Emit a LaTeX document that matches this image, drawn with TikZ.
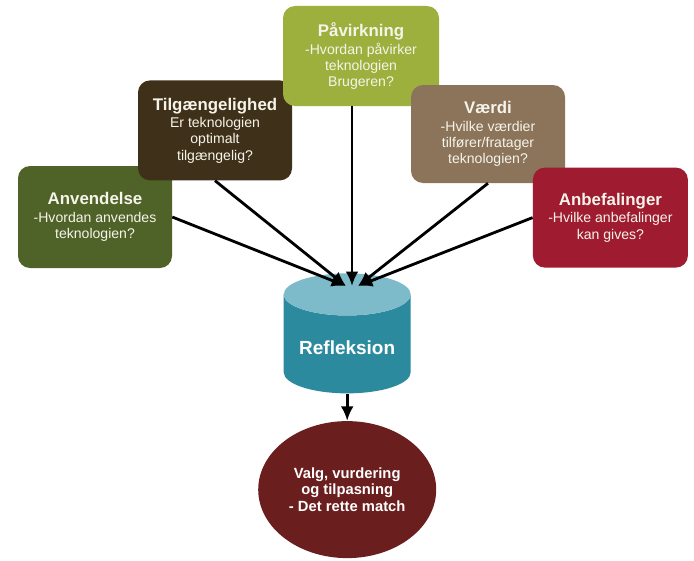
\documentclass[tikz,border=0pt]{standalone}
\usepackage{fontspec}
\setmainfont{Liberation Sans}
\usetikzlibrary{shapes.geometric,arrows.meta}
\definecolor{anvgreen}{HTML}{4F6228}
\definecolor{tilgbrown}{HTML}{3F3119}
\definecolor{pavlime}{HTML}{9DB03D}
\definecolor{vaerdtaupe}{HTML}{8B745A}
\definecolor{anbefred}{HTML}{9E1B30}
\definecolor{reflteal}{HTML}{2C8A9F}
\definecolor{refltop}{HTML}{7DBACA}
\definecolor{valgred}{HTML}{6B1E1E}
\definecolor{boxtext}{HTML}{F6F4EA}
\tikzset{
  boks/.style={rectangle,rounded corners=0.3cm,minimum width=3.85cm,minimum height=2.5cm,
    align=center,text=boxtext,inner sep=2pt,font=\fontsize{10}{11.5}\selectfont},
  pil/.style={-{Latex[length=3.6mm,width=3.2mm]},line width=2pt},
}
\newcommand{\boxhead}[1]{{\fontsize{12}{14}\selectfont\bfseries #1}}

\begin{document}
\begin{tikzpicture}
	\useasboundingbox (0,0) rectangle (17.35,-14);
	% the five questions
	\node[boks,fill=anvgreen,minimum height=2.55cm] at (2.375,-5.425) (anv) {\boxhead{Anvendelse}\\[1pt]-Hvordan anvendes\\teknologien?};
	\node[boks,fill=tilgbrown] at (5.375,-3.26) (tilg) {\boxhead{Tilgængelighed}\\[1pt]Er teknologien\\optimalt\\tilgængelig?};
	\node[boks,fill=pavlime,minimum width=3.9cm] at (9.025,-1.4) (pav) {\boxhead{Påvirkning}\\[1pt]-Hvordan påvirker\\teknologien\\Brugeren?};
	\node[boks,fill=vaerdtaupe,minimum height=2.45cm] at (12.2,-3.35) (vaerd) {\boxhead{Værdi}\\[1pt]-Hvilke værdier\\tilfører/fratager\\teknologien?};
	\node[boks,fill=anbefred,minimum width=3.875cm] at (15.26,-5.44) (anbef) {\boxhead{Anbefalinger}\\[1pt]-Hvilke anbefalinger\\kan gives?};

	% reflection and result
	\node[cylinder,shape border rotate=90,shape aspect=0.4,minimum width=3.175cm,minimum height=3cm,
		cylinder uses custom fill,cylinder body fill=reflteal,cylinder end fill=refltop,
		text=white,font=\fontsize{13.5}{16}\selectfont\bfseries] at (8.68,-8.7) (refl) {Refleksion};
	\node[ellipse,fill=valgred,minimum width=4.425cm,minimum height=3.425cm,align=center,
		text=white,font=\fontsize{10.5}{11.5}\selectfont\bfseries] at (8.68,-12.24) (valg) {Valg, vurdering\\og tilpasning\\- Det rette match};
	\coordinate (hub) at (8.8,-7.15);

	\draw[pil] (anv.east) -- ([xshift=-0.15cm]hub);
	\draw[pil] (tilg.south) -- ([xshift=-0.15cm]hub);
	\draw[pil] (pav.south -| hub) -- (hub);
	\draw[pil] (vaerd.south) -- ([xshift=0.15cm]hub);
	\draw[pil] (anbef.west) -- ([xshift=0.15cm]hub);
	\draw[pil] (refl.south) -- (valg.north);
\end{tikzpicture}
\end{document}
